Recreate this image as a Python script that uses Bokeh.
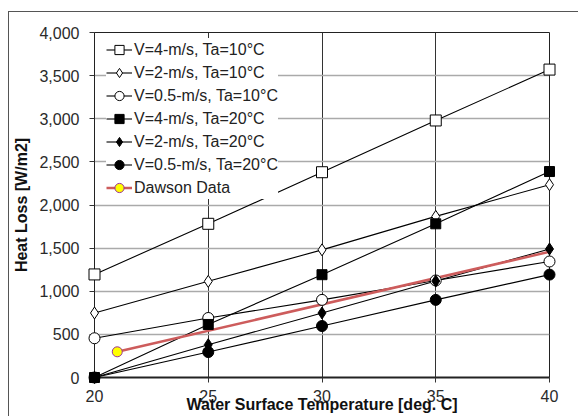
from bokeh.plotting import figure
from bokeh.models import Range1d, FixedTicker, NumeralTickFormatter, Legend, LegendItem
from bokeh.embed import file_html
from bokeh.resources import INLINE

temps = [20, 25, 30, 35, 40]
v4_ta10 = [1195, 1782, 2380, 2980, 3570]
v2_ta10 = [748, 1115, 1480, 1868, 2235]
v05_ta10 = [455, 690, 900, 1125, 1345]
v4_ta20 = [0, 615, 1192, 1782, 2388]
v2_ta20 = [0, 380, 748, 1118, 1490]
v05_ta20 = [0, 295, 597, 900, 1193]
dawson_x = [21, 40]
dawson_y = [298, 1458]

series_labels = ["V=4-m/s, Ta=10°C", "V=2-m/s, Ta=10°C", "V=0.5-m/s, Ta=10°C",
                 "V=4-m/s, Ta=20°C", "V=2-m/s, Ta=20°C", "V=0.5-m/s, Ta=20°C"]
dawson_label = "Dawson Data"
x_ticks = [20, 25, 30, 35, 40]
y_ticks = [0, 500, 1000, 1500, 2000, 2500, 3000, 3500, 4000]

FONT = "Liberation Sans"

p = figure(width=570, height=405, x_range=Range1d(20, 40), y_range=Range1d(0, 4000),
           output_backend="svg", toolbar_location=None,
           min_border_left=85, min_border_right=30, min_border_top=20, min_border_bottom=40)
p.margin = (11, 0, 0, 8)
p.styles = {"border-left": "1px solid #555", "border-top": "1px solid #555"}

p.xaxis.ticker = FixedTicker(ticks=x_ticks)
p.yaxis.ticker = FixedTicker(ticks=y_ticks)
p.yaxis.formatter = NumeralTickFormatter(format="0,0")
p.xaxis.axis_label = "Water Surface Temperature [deg. C]"
p.yaxis.axis_label = "Heat Loss [W/m2]"
for ax in (p.xaxis, p.yaxis):
    ax.major_label_text_font = FONT
    ax.major_label_text_font_size = "16px"
    ax.major_label_text_color = "#2a2a2a"
    ax.axis_label_text_font = FONT
    ax.axis_label_text_font_size = "16px"
    ax.axis_label_text_font_style = "bold"
    ax.axis_label_text_color = "#111111"
    ax.minor_tick_line_color = None
    ax.major_tick_in = 0
    ax.major_tick_out = 5
    ax.major_tick_line_color = "#333333"
    ax.axis_line_color = "#222222"
p.xaxis.major_label_standoff = 7
p.xaxis.axis_label_standoff = -9
p.xaxis.axis_line_width = 2
p.yaxis.major_label_standoff = 10
p.yaxis.axis_label_standoff = 6

p.xgrid.grid_line_color = "#333333"
p.xgrid.grid_line_width = 1
p.ygrid.grid_line_color = "#aaaaaa"
p.ygrid.grid_line_width = 1.5
p.outline_line_color = "#222222"
p.outline_line_width = 1

series = [v4_ta10, v2_ta10, v05_ta10, v4_ta20, v2_ta20, v05_ta20]
styles = [
    dict(marker="square", size=11, fill_color="white"),
    dict(marker="diamond", size=12, fill_color="white"),
    dict(marker="circle", size=11, fill_color="white"),
    dict(marker="square", size=10, fill_color="black"),
    dict(marker="diamond", size=12, fill_color="black"),
    dict(marker="circle", size=11, fill_color="black"),
]
items = []
for vals, lab, st in zip(series, series_labels, styles):
    lr = p.line(temps, vals, line_color="black", line_width=1.1)
    sr = p.scatter(temps, vals, marker=st["marker"], size=st["size"],
                   fill_color=st["fill_color"], line_color="black", line_width=1, level="overlay")
    items.append(LegendItem(label=lab, renderers=[lr, sr]))

dl = p.line(dawson_x, dawson_y, line_color="#cd5c5c", line_width=2.5)
ds = p.scatter(dawson_x[:1], dawson_y[:1], marker="circle", size=10, fill_color="#ffff00",
               line_color="#993399", line_width=1, level="overlay")
items.append(LegendItem(label=dawson_label, renderers=[dl, ds]))

legend = Legend(items=items, location=(12, 178), padding=1, spacing=0, margin=0,
                glyph_width=26, glyph_height=23, label_height=23, label_standoff=2,
                border_line_color=None, background_fill_color="white", background_fill_alpha=1,
                label_text_font=FONT, label_text_font_size="16px", label_text_color="#222222")
p.add_layout(legend)

open("out.html", "w").write(file_html(p, INLINE))
